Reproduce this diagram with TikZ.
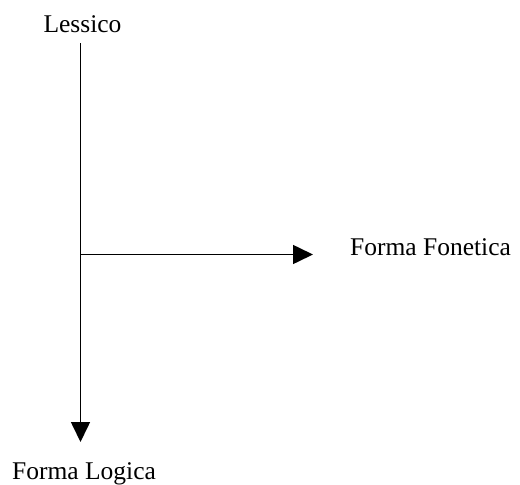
\documentclass[tikz,border=0pt]{standalone}
\usepackage{fontspec}
\setmainfont{Liberation Serif}
\usetikzlibrary{arrows.meta}
\begin{document}
\begin{tikzpicture}[x=1pt,y=-1pt,
  lbl/.style={inner sep=0pt,font=\fontsize{25.5}{30}\selectfont},
  conn/.style={line width=1.6pt,-{Triangle[length=20pt,width=19pt]}}]
\useasboundingbox (0,0) rectangle (520,485);
\node[lbl,anchor=base] (lex) at (82.5,32) {Lessico};
\node[lbl,anchor=base west] (pf) at (350,255) {Forma Fonetica};
\node[lbl,anchor=base west] (lf) at (12,479) {Forma Logica};
\coordinate (top) at (80.5,43);
\coordinate (bot) at (80.5,442);
\coordinate (junc) at (80.5,254.5);
\coordinate (pfend) at (313,254.5);
\draw[conn] (top) -- (bot);
\draw[conn] (junc) -- (pfend);
\end{tikzpicture}
\end{document}
